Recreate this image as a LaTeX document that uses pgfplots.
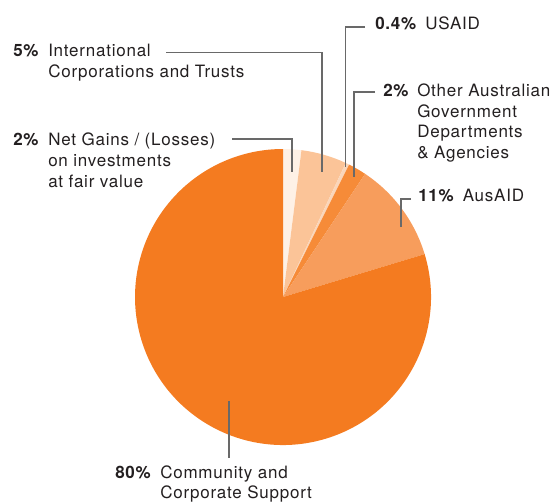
\documentclass[border=0pt]{standalone}
\usepackage{pgfplots}
\usepackage{pgfplotstable}
\pgfplotsset{compat=1.18}
\usepackage{fontspec}
\setmainfont{TeX Gyre Heros}[LetterSpace=4.5]

\definecolor{cComm}{RGB}{244,123,32}
\definecolor{cAus}{RGB}{247,157,92}
\definecolor{cOther}{RGB}{246,139,56}
\definecolor{cUS}{RGB}{250,214,186}
\definecolor{cIntl}{RGB}{251,196,152}
\definecolor{cNet}{RGB}{254,241,230}
\definecolor{txt}{RGB}{35,31,32}
\definecolor{lead}{RGB}{105,105,105}

\newcommand\lbl{\fontsize{12.75}{15}\selectfont}

\pgfplotstableread{
label value
Net 2
Intl 5
USAID 0.4
Other 2
AusAID 11
Community 80
}\piedata

\begin{document}
\begin{tikzpicture}
\pgfplotstablegetelem{0}{value}\of\piedata \let\vA\pgfplotsretval
\pgfplotstablegetelem{1}{value}\of\piedata \let\vB\pgfplotsretval
\pgfplotstablegetelem{2}{value}\of\piedata \let\vC\pgfplotsretval
\pgfplotstablegetelem{3}{value}\of\piedata \let\vD\pgfplotsretval
\pgfplotstablegetelem{4}{value}\of\piedata \let\vE\pgfplotsretval
\pgfplotstablegetelem{5}{value}\of\piedata \let\vF\pgfplotsretval
\pgfmathsetmacro\tot{\vA+\vB+\vC+\vD+\vE+\vF}
\pgfmathsetmacro\sc{360/\tot}
\pgfmathsetmacro\aA{90-\sc*\vA}
\pgfmathsetmacro\aB{\aA-\sc*\vB}
\pgfmathsetmacro\aC{\aB-\sc*\vC}
\pgfmathsetmacro\aD{\aC-\sc*\vD}
\pgfmathsetmacro\aE{\aD-\sc*\vE}
\def\R{111pt}
\begin{axis}[hide axis, scale only axis, x=0.75pt, y=0.75pt, y dir=reverse,
  xmin=0, xmax=554, ymin=0, ymax=501, clip=false, disabledatascaling,
  at={(0,0)}, anchor=south west]
\addplot[draw=none] coordinates {(0,0) (554,501)};
% wedges
\fill[cNet]   (axis cs:283,297) -- ++(90:\R)  arc[start angle=90,  end angle=\aA, radius=\R] -- cycle;
\fill[cIntl]  (axis cs:283,297) -- ++(\aA:\R) arc[start angle=\aA, end angle=\aB, radius=\R] -- cycle;
\fill[cUS]    (axis cs:283,297) -- ++(\aB:\R) arc[start angle=\aB, end angle=\aC, radius=\R] -- cycle;
\fill[cOther] (axis cs:283,297) -- ++(\aC:\R) arc[start angle=\aC, end angle=\aD, radius=\R] -- cycle;
\fill[cAus]   (axis cs:283,297) -- ++(\aD:\R) arc[start angle=\aD, end angle=\aE, radius=\R] -- cycle;
\fill[cComm]  (axis cs:283,297) -- ++(\aE:\R) arc[start angle=\aE, end angle=-270, radius=\R] -- cycle;
% leader lines
\draw[lead, line width=0.9pt] (axis cs:232,139) -- (axis cs:292,139) -- (axis cs:292,172);
\draw[lead, line width=0.9pt] (axis cs:166,52.5) -- (axis cs:322,52.5) -- (axis cs:322,172);
\draw[lead, line width=0.9pt] (axis cs:365,27) -- (axis cs:345.5,27) -- (axis cs:345.5,167);
\draw[lead, line width=0.9pt] (axis cs:375,92) -- (axis cs:354,92) -- (axis cs:354,177);
\draw[lead, line width=0.9pt] (axis cs:411,199) -- (axis cs:401,199) -- (axis cs:401,227);
\draw[lead, line width=0.9pt] (axis cs:229,401) -- (axis cs:229,458);
% labels
\tikzset{pl/.style={anchor=base west, inner sep=0pt, text=txt, font=\lbl\bfseries},
         tl/.style={anchor=base west, inner sep=0pt, text=txt, font=\lbl}}
\node[pl] at (axis cs:13,56.7) {5\%};
\node[tl] at (axis cs:48,56.7) {International};
\node[tl] at (axis cs:48,77.3) {Corporations and Trusts};
\node[pl] at (axis cs:13,145) {2\%};
\node[tl] at (axis cs:48,145) {Net Gains / (Losses)};
\node[tl] at (axis cs:48,166) {on investments};
\node[tl] at (axis cs:48,187) {at fair value};
\node[pl] at (axis cs:375,29) {0.4\%};
\node[tl] at (axis cs:425,29) {USAID};
\node[pl] at (axis cs:383,96.7) {2\%};
\node[tl] at (axis cs:417,96.7) {Other Australian};
\node[tl] at (axis cs:417,117) {Government};
\node[tl] at (axis cs:417,137.5) {Departments};
\node[tl] at (axis cs:417,158) {\& Agencies};
\node[pl] at (axis cs:418,201.7) {11\%};
\node[tl] at (axis cs:462.5,201.7) {AusAID};
\node[pl] at (axis cs:115,478) {80\%};
\node[tl] at (axis cs:160,478) {Community and};
\node[tl] at (axis cs:160,498.5) {Corporate Support};
\end{axis}
\pgfresetboundingbox
\path (current axis.south west) rectangle (current axis.north east);
\end{tikzpicture}
\end{document}
